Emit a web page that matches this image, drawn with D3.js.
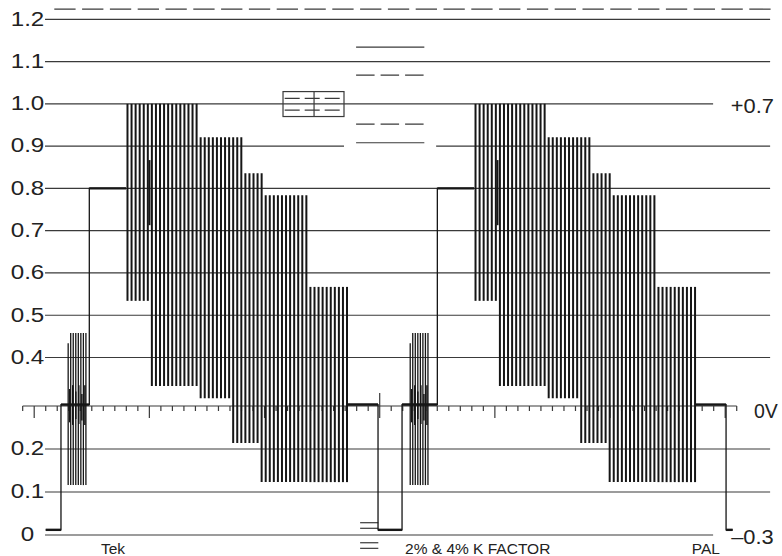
<!DOCTYPE html>
<html>
<head>
<meta charset="utf-8">
<script src="https://cdn.jsdelivr.net/npm/d3@7"></script>
<style>
  body { margin: 0; background: #fff; }
  svg { display: block; }
  text { font-family: "Liberation Sans", Arial, sans-serif; fill: #222; }
</style>
</head>
<body>
<div id="chart"></div>
<script>
// graticule (volts) and labels
var gridLevels = [1.2, 1.1, 1.0, 0.9, 0.8, 0.7, 0.6, 0.5, 0.4, 0.2, 0.1, 0];
var gridLabels = ["1.2", "1.1", "1.0", "0.9", "0.8", "0.7", "0.6", "0.5", "0.4", "0.2", "0.1", "0"];
var sideLabels = ["+0.7", "0V", "\u20130.3"];
var sideLevels = [1.0, 0.3, 0];
var footLabels = ["Tek", "2% & 4% K FACTOR", "PAL"];
var footTimes = [11.6, 64.4, 114.2];

// two lines of colour bars, time in microseconds
var lineOffsets = [0, 60.44];
var syncRuns = [[2.0, 4.65], [59.71, 63.88], [120.15, 121.3]];
var blankRuns = [[4.65, 9.57], [54.32, 59.71], [63.88, 70.01], [114.76, 120.15]];
var whiteRuns = [[9.57, 15.94], [70.01, 76.38]];
var syncLevel = 0.012, blankLevel = 0.303, whiteLevel = 0.8;

// chroma envelope of the bars
var chromaSpan = [16.2, 54.32];
var chromaPeriod = 0.706;
var topEdges = [28.71, 36.35, 39.74, 47.55];
var topLevels = [1.0, 0.921, 0.836, 0.784, 0.567];
var bottomEdges = [20.02, 28.53, 34.09, 39.39];
var bottomLevels = [0.534, 0.341, 0.316, 0.214, 0.123];
var edgeMarks = [[20.02, 0.713, 0.867]];

// burst
var burstStart = [5.9, 65.3];
var burstPeriod = 0.44;
var burstTops = [0.434, 0.458, 0.458, 0.458, 0.458, 0.458, 0.458, 0.458];
var burstBottoms = [0.116, 0.116, 0.116, 0.116, 0.116, 0.116, 0.116, 0.116];
var stubTops = [0.335, 0.343, 0.33, 0.343, 0.325, 0.343];
var stubBottoms = [0.262, 0.256, 0.27, 0.258, 0.266, 0.256];

var W = 782, H = 556;
var svg = d3.select("#chart").append("svg").attr("width", W).attr("height", H);

var x = d3.scaleLinear().domain([0, 120]).range([34.2, 725.2]);
var y = d3.scaleLinear().domain([0, 0.3, 0.4, 1.2]).range([535, 406, 357.5, 19.3]);

var grat = svg.append("g").attr("stroke", "#3a3a3a").attr("stroke-width", 1.2).attr("fill", "none");

// top dashed limit
grat.append("line")
    .attr("x1", x(3.49)).attr("x2", x(127.9))
    .attr("y1", y(1.224)).attr("y2", y(1.224))
    .attr("stroke-dasharray", "21.3,6.5");

gridLevels.forEach(function (v) {
    var segs = [[1.88, 127.8]];
    if (v === 1.0 || v === 0) segs = [[1.88, 117.9]];
    if (v === 0.9) segs = [[1.88, 53.8], [69.8, 127.8]];
    segs.forEach(function (s) {
        grat.append("line")
            .attr("x1", x(s[0])).attr("x2", x(s[1]))
            .attr("y1", y(v)).attr("y2", y(v));
    });
});

// blanking axis with ticks
grat.append("line").attr("x1", x(-2)).attr("x2", x(122)).attr("y1", y(0.3)).attr("y2", y(0.3));
grat.selectAll("line.tick")
    .data(d3.range(-2, 123, 2))
    .enter()
    .append("line")
    .attr("class", "tick")
    .attr("x1", function (d) { return x(d); })
    .attr("x2", function (d) { return x(d); })
    .attr("y1", function (d) { return d === 60 ? y(0.3) - 13 : y(0.3); })
    .attr("y2", function (d) { return d % 20 === 0 ? y(0.3) + 12 : y(0.3) + 5; });

// K factor marks in the middle
var kSpan = [55.9, 67.75];
[1.134, 0.908].forEach(function (v) {
    grat.append("line").attr("x1", x(kSpan[0])).attr("x2", x(kSpan[1])).attr("y1", y(v)).attr("y2", y(v));
});
[1.068, 0.952].forEach(function (v) {
    grat.append("line").attr("x1", x(kSpan[0])).attr("x2", x(kSpan[1])).attr("y1", y(v)).attr("y2", y(v))
        .attr("stroke-dasharray", "18.5,6");
});
grat.append("rect")
    .attr("x", x(43.21)).attr("y", y(1.029))
    .attr("width", x(53.8) - x(43.21)).attr("height", y(0.970) - y(1.029));
grat.append("line").attr("x1", x(48.6)).attr("x2", x(48.6)).attr("y1", y(1.029)).attr("y2", y(0.970));
[1.013, 0.985].forEach(function (v) {
    grat.append("line").attr("x1", x(43.5)).attr("x2", x(53.8)).attr("y1", y(v)).attr("y2", y(v))
        .attr("stroke-dasharray", "15,5");
});
[0.0286, 0.0156, -0.018, -0.031].forEach(function (v) {
    grat.append("line").attr("x1", x(56.6)).attr("x2", x(59.76)).attr("y1", y(v)).attr("y2", y(v));
});

// labels
svg.selectAll("text.grid")
    .data(gridLevels)
    .enter()
    .append("text")
    .attr("class", "grid")
    .attr("text-anchor", "middle")
    .attr("font-size", 19.5)
    .attr("transform", function (d) { return "translate(27.5," + (y(d) + 6.3) + ") scale(1.24,1)"; })
    .text(function (d, i) { return gridLabels[i]; });

var sideX = [752.4, 754, 752.4], sideDy = [9.4, 12.3, 9], sideAnchor = ["middle", "start", "middle"], sideScale = [1.12, 1, 1.12];
svg.selectAll("text.side")
    .data(sideLabels)
    .enter()
    .append("text")
    .attr("class", "side")
    .attr("font-size", 19.5)
    .attr("text-anchor", function (d, i) { return sideAnchor[i]; })
    .attr("transform", function (d, i) { return "translate(" + sideX[i] + "," + (y(sideLevels[i]) + sideDy[i]) + ") scale(" + sideScale[i] + ",1)"; })
    .text(function (d) { return d; });

svg.selectAll("text.foot")
    .data(footLabels)
    .enter()
    .append("text")
    .attr("class", "foot")
    .attr("font-size", 15.5)
    .attr("x", function (d, i) { return x(footTimes[i]); })
    .attr("y", 554)
    .text(function (d) { return d; });

// waveform
var wave = svg.append("g").attr("stroke", "#161616").attr("fill", "none");

var runs = [];
syncRuns.forEach(function (r) { runs.push({ s: r[0], e: r[1], v: syncLevel }); });
blankRuns.forEach(function (r) { runs.push({ s: r[0], e: r[1], v: blankLevel }); });
whiteRuns.forEach(function (r) { runs.push({ s: r[0], e: r[1], v: whiteLevel }); });
runs.sort(function (a, b) { return a.s - b.s; });

var p = d3.path(), prev = null;
runs.forEach(function (r) {
    if (prev && Math.abs(prev.e - r.s) < 1e-6) p.lineTo(x(r.s), y(r.v));
    else p.moveTo(x(r.s), y(r.v));
    p.lineTo(x(r.e), y(r.v));
    prev = r;
});
wave.append("path").attr("d", p.toString()).attr("stroke-width", 1.3);
wave.selectAll("line.run")
    .data(runs)
    .enter()
    .append("line")
    .attr("class", "run")
    .attr("stroke-width", 2.4)
    .attr("x1", function (d) { return x(d.s); })
    .attr("x2", function (d) { return x(d.e); })
    .attr("y1", function (d) { return y(d.v); })
    .attr("y2", function (d) { return y(d.v); });

var topAt = d3.scaleThreshold().domain(topEdges).range(topLevels);
var bottomAt = d3.scaleThreshold().domain(bottomEdges).range(bottomLevels);
var chromaTimes = d3.range(chromaSpan[0], chromaSpan[1] + 0.01, chromaPeriod);

lineOffsets.forEach(function (off, li) {
    wave.selectAll("line.chroma" + li)
        .data(chromaTimes)
        .enter()
        .append("line")
        .attr("stroke-width", 2)
        .attr("x1", function (d) { return x(d + off); })
        .attr("x2", function (d) { return x(d + off); })
        .attr("y1", function (d) { return y(topAt(d)); })
        .attr("y2", function (d) { return y(bottomAt(d)); });

    edgeMarks.forEach(function (m) {
        wave.append("line").attr("stroke-width", 2)
            .attr("x1", x(m[0] + off)).attr("x2", x(m[0] + off))
            .attr("y1", y(m[2])).attr("y2", y(m[1]));
    });

    wave.selectAll("line.burst" + li)
        .data(burstTops)
        .enter()
        .append("line")
        .attr("stroke-width", 1.3)
        .attr("x1", function (d, i) { return x(burstStart[li] + i * burstPeriod); })
        .attr("x2", function (d, i) { return x(burstStart[li] + i * burstPeriod); })
        .attr("y1", function (d) { return y(d); })
        .attr("y2", function (d, i) { return y(burstBottoms[i]); });

    wave.selectAll("line.stub" + li)
        .data(stubTops)
        .enter()
        .append("line")
        .attr("stroke-width", 1.5)
        .attr("x1", function (d, i) { return x(burstStart[li] + (i + 0.5) * burstPeriod * 1.2); })
        .attr("x2", function (d, i) { return x(burstStart[li] + (i + 0.5) * burstPeriod * 1.2); })
        .attr("y1", function (d) { return y(d); })
        .attr("y2", function (d, i) { return y(stubBottoms[i]); });
});
</script>
</body>
</html>
